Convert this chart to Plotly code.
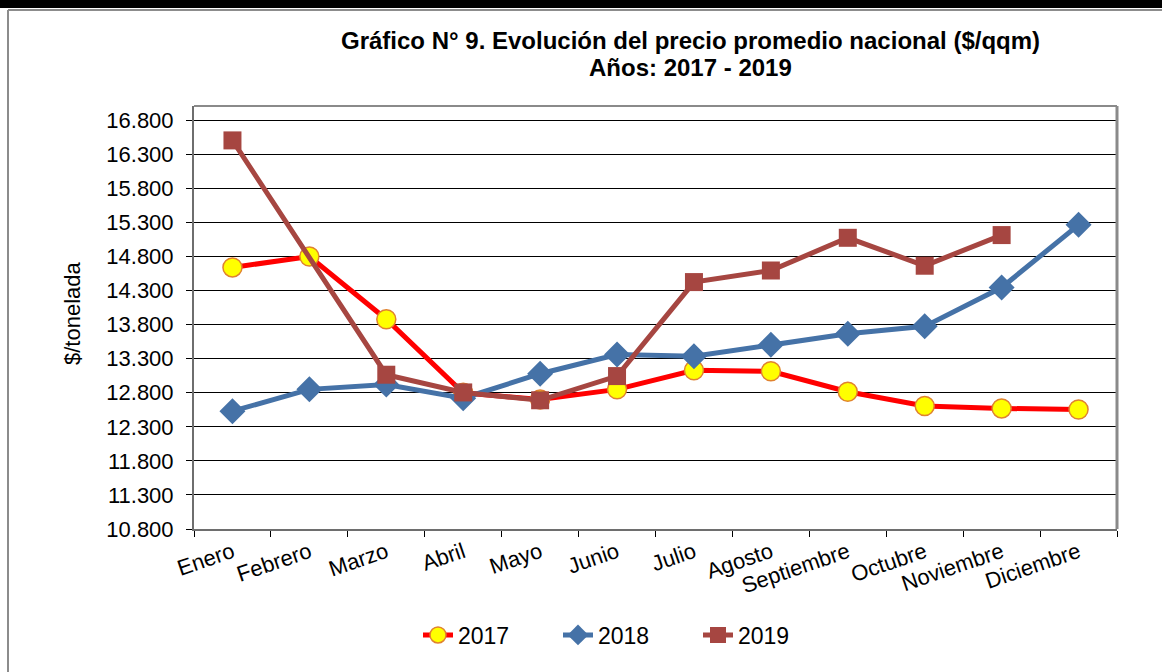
import plotly.graph_objects as go

months = ["Enero", "Febrero", "Marzo", "Abril", "Mayo", "Junio", "Julio",
          "Agosto", "Septiembre", "Octubre", "Noviembre", "Diciembre"]
y2017 = [14640, 14800, 13880, 12800, 12700, 12850, 13130, 13115, 12815, 12605, 12570, 12555]
y2018 = [12530, 12850, 12920, 12720, 13080, 13360, 13335, 13505, 13665, 13775, 14345, 15265]
y2019 = [16505, None, 13065, 12805, 12690, 13045, 14425, 14595, 15075, 14665, 15115, None]
ytick_vals = [10800, 11300, 11800, 12300, 12800, 13300, 13800, 14300, 14800, 15300, 15800, 16300, 16800]

FONT = "Liberation Sans, Arial, sans-serif"

fig = go.Figure()
fig.add_trace(go.Scatter(
    x=months, y=y2017, name="2017", mode="lines+markers",
    line=dict(color="#FF0000", width=5),
    marker=dict(symbol="circle", size=19, color="#FFFF00",
                line=dict(color="#E0822F", width=1.5)),
))
fig.add_trace(go.Scatter(
    x=months, y=y2018, name="2018", mode="lines+markers",
    line=dict(color="#4572A7", width=5),
    marker=dict(symbol="diamond", size=20, color="#4572A7"),
))
fig.add_trace(go.Scatter(
    x=months, y=y2019, name="2019", mode="lines+markers", connectgaps=True,
    line=dict(color="#A64641", width=5),
    marker=dict(symbol="square", size=18, color="#A64641"),
))

L, R, T, B = 194, 45, 106, 143
W, H = 1162, 672
pw, ph = W - L - R, H - T - B

def px(x):
    return (x - L) / pw

def py(y):
    return (H - B - y) / ph

fig.update_layout(
    width=W, height=H,
    margin=dict(l=L, r=R, t=T, b=B),
    paper_bgcolor="white", plot_bgcolor="white",
    font=dict(family=FONT, size=22, color="black"),
    separators=",.",
    showlegend=True,
    legend=dict(orientation="h", x=px(628), xanchor="center", y=py(635), yanchor="middle",
                font=dict(size=23), entrywidth=95, entrywidthmode="pixels", tracegroupgap=0),
    xaxis=dict(
        type="category", range=[-0.5, 11.5],
        showline=True, linecolor="#6E6E6E", linewidth=2, mirror=False,
        ticks="outside", tickson="boundaries", ticklen=6, tickcolor="black", tickwidth=1,
        tickangle=-19, showgrid=False, tickfont=dict(size=22),
    ),
    yaxis=dict(
        range=[10800, 17010], tickvals=ytick_vals, tickformat=",d",
        showline=True, linecolor="#6E6E6E", linewidth=2,
        ticks="outside", ticklen=6, tickcolor="black", tickwidth=1,
        showgrid=True, gridcolor="black", gridwidth=1,
        zeroline=False, tickfont=dict(size=22), ticklabelstandoff=8,
    ),
    annotations=[
        dict(text="<b>Gráfico N° 9. Evolución del precio promedio nacional ($/qqm)</b>",
             x=px(690), y=py(40), xref="paper", yref="paper", showarrow=False,
             xanchor="center", yanchor="middle", font=dict(size=24)),
        dict(text="<b>Años: 2017 - 2019</b>",
             x=px(690), y=py(67), xref="paper", yref="paper", showarrow=False,
             xanchor="center", yanchor="middle", font=dict(size=24)),
        dict(text="$/tonelada", textangle=-90,
             x=px(72), y=py(313), xref="paper", yref="paper", showarrow=False,
             xanchor="center", yanchor="middle", font=dict(size=22)),
    ],
    shapes=[
        dict(type="line", xref="paper", yref="paper", x0=0, x1=1, y0=1, y1=1,
             line=dict(color="#8A8A8A", width=2)),
        dict(type="line", xref="paper", yref="paper", x0=1, x1=1, y0=0, y1=1,
             line=dict(color="#8A8A8A", width=3)),
        dict(type="rect", xref="paper", yref="paper", x0=px(0), x1=px(W), y0=py(0), y1=py(8),
             fillcolor="black", line=dict(width=0), layer="above"),
        dict(type="line", xref="paper", yref="paper", x0=px(8), x1=px(W), y0=py(10), y1=py(10),
             line=dict(color="#8C8C8C", width=2)),
        dict(type="line", xref="paper", yref="paper", x0=px(8), x1=px(8), y0=py(10), y1=py(H),
             line=dict(color="#8C8C8C", width=2)),
    ],
)

fig.write_html("out.html", config={"displayModeBar": False},
               post_script="document.body.style.margin='0';document.body.style.overflow='hidden';")
